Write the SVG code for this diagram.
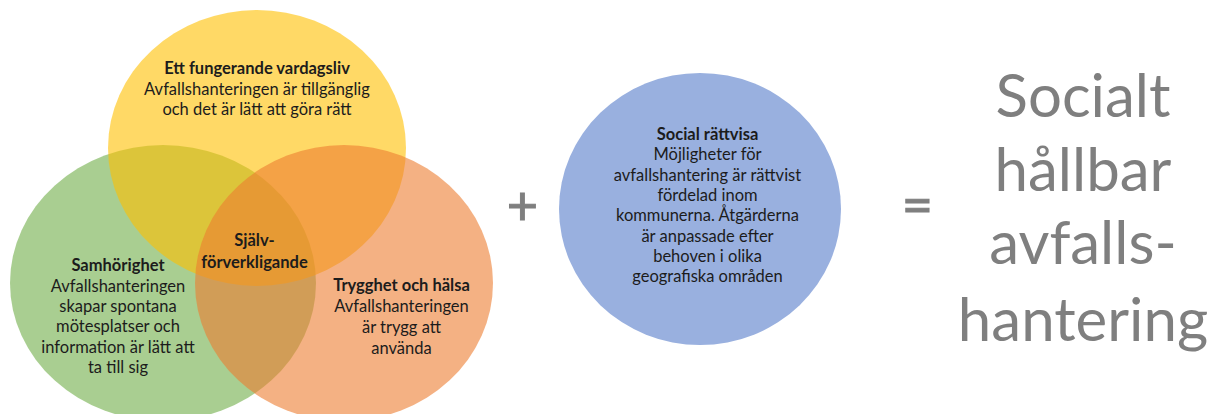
<svg xmlns="http://www.w3.org/2000/svg" width="1229" height="414" viewBox="0 0 1229 414">
<style>
.t{font-family:Lato,"Liberation Sans",sans-serif;font-size:16.5px;fill:#1c1c1c;text-anchor:middle}
.b{font-weight:bold}
.big{font-family:Lato,"Liberation Sans",sans-serif;font-size:60px;fill:#7f7f7f;text-anchor:middle}
.op{font-family:Lato,"Liberation Sans",sans-serif;fill:#7f7f7f;stroke:#7f7f7f;stroke-width:1;text-anchor:middle}
.venn{fill-opacity:0.6}
</style>
<rect width="1229" height="414" fill="#ffffff"/>
<g id="samhorighet">
<ellipse class="venn" cx="163" cy="283" rx="153" ry="138" fill="#70AD47"/>
<text class="t b" x="118" y="271">Samhörighet</text>
<text class="t" x="118" y="292">Avfallshanteringen</text>
<text class="t" x="118" y="312">skapar spontana</text>
<text class="t" x="118" y="332">mötesplatser och</text>
<text class="t" x="118" y="353">information är lätt att</text>
<text class="t" x="118" y="373">ta till sig</text>
</g>
<g id="vardagsliv">
<ellipse class="venn" cx="257" cy="148" rx="149" ry="138" fill="#FFC000"/>
<text class="t b" x="257" y="74">Ett fungerande vardagsliv</text>
<text class="t" x="257" y="94.5">Avfallshanteringen är tillgänglig</text>
<text class="t" x="257" y="115">och det är lätt att göra rätt</text>
</g>
<g id="trygghet">
<ellipse class="venn" cx="344" cy="283" rx="149" ry="138" fill="#ED7D31"/>
<text class="t b" x="401.5" y="291">Trygghet och hälsa</text>
<text class="t" x="401.5" y="312">Avfallshanteringen</text>
<text class="t" x="401.5" y="333">är trygg att</text>
<text class="t" x="401.5" y="354">använda</text>
</g>
<g id="sjalvforverkligande">
<text class="t b" x="254.5" y="246">Själv-</text>
<text class="t b" x="254.5" y="268">förverkligande</text>
</g>
<g id="social-rattvisa">
<ellipse cx="700" cy="209" rx="141" ry="136" fill="#99B0DF"/>
<text class="t b" x="707.5" y="140">Social rättvisa</text>
<text class="t" x="707.5" y="160.3">Möjligheter för</text>
<text class="t" x="707.5" y="180.6">avfallshantering är rättvist</text>
<text class="t" x="707.5" y="200.9">fördelad inom</text>
<text class="t" x="707.5" y="221.2">kommunerna. Åtgärderna</text>
<text class="t" x="707.5" y="241.5">är anpassade efter</text>
<text class="t" x="707.5" y="261.8">behoven i olika</text>
<text class="t" x="707.5" y="282.1">geografiska områden</text>
</g>
<g id="connectors">
<text class="op" x="522.5" y="225" font-size="54">+</text>
<text class="op" x="917.5" y="224" font-size="54">=</text>
</g>
<g id="result">
<text class="big" x="1083" y="117">Socialt</text>
<text class="big" x="1083" y="191">hållbar</text>
<text class="big" x="1083" y="264">avfalls-</text>
<text class="big" x="1083" y="341">hantering</text>
</g>
</svg>
